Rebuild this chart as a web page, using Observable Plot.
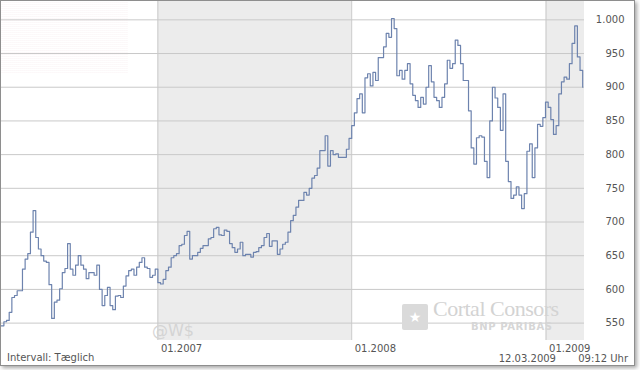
<!DOCTYPE html>
<html>
<head>
<meta charset="utf-8">
<script src="https://cdn.jsdelivr.net/npm/d3@7"></script>
<script src="https://cdn.jsdelivr.net/npm/@observablehq/plot@0.6"></script>
<style>
  html, body { margin: 0; padding: 0; background: #fff; }
  body { font-family: "DejaVu Sans", Verdana, sans-serif; }
  #frame { position: absolute; left: 0; top: 0; width: 633px; height: 364px;
           border: 1px solid #8e8e8e; box-shadow: 2px 2px 4px rgba(0,0,0,0.35);
           background: #fff; overflow: hidden; }
  #chart { position: absolute; left: 0; top: 0; }
  #stripes { position: absolute; left: 0; top: 1px; width: 127px; height: 72px; pointer-events: none;
             background: repeating-linear-gradient(to bottom, rgba(240,215,222,0.16) 0 1px, rgba(255,255,255,0) 1px 2px); }
  .foot { position: absolute; font-size: 10px; line-height: 10px; color: #555; white-space: pre; }
  .wm { position: absolute; white-space: pre; pointer-events: none; }
</style>
</head>
<body>
<div id="frame">
  <div id="chart"></div>
  <div id="stripes"></div>
  <div class="wm" style="left:151px; top:322px; font: 16px/16px 'DejaVu Sans', sans-serif; color:#d4d4d4;">@W$</div>
  <div class="wm" style="left:401px; top:303px; width:26px; height:26px; background:#dadada; border-radius:2px; color:#fff; font: 14px/26px 'DejaVu Sans'; text-align:center;">★</div>
  <div class="wm" style="left:432px; top:297px; font: 22px/22px 'Liberation Serif', serif; color:#d3d3d3; letter-spacing:-0.5px;">Cortal Consors</div>
  <div class="wm" style="left:470px; top:320px; font: bold 10px/12px 'DejaVu Sans', sans-serif; color:#d6d6d6; letter-spacing:0.6px;">BNP PARIBAS</div>
  <div class="foot" style="left:6px; top:352px;">Intervall: Tæglich</div>
  <div class="foot" style="right:6px; top:353px;">12.03.2009       09:12 Uhr</div>
</div>
<script>
const seriesStart = "2006-03-12";
const stepDays = 5;
const prices = [
  546, 552, 554, 566, 588, 591, 598, 598, 630, 645,
  653, 685, 717, 677, 660, 650, 642, 640, 607, 557,
  581, 584, 601, 625, 631, 668, 630, 621, 636, 650,
  636, 630, 616, 625, 625, 621, 636, 600, 576, 591,
  603, 576, 570, 590, 591, 588, 605, 620, 628, 630,
  621, 633, 640, 647, 633, 631, 618, 621, 630, 610,
  608, 615, 628, 633, 647, 650, 653, 665, 667, 680,
  686, 645, 650, 650, 655, 661, 665, 665, 675, 677,
  690, 692, 681, 680, 688, 686, 668, 662, 655, 660,
  670, 650, 652, 652, 648, 655, 656, 662, 665, 677,
  683, 664, 672, 672, 652, 660, 667, 670, 685, 702,
  710, 722, 732, 732, 744, 740, 750, 765, 769, 780,
  806, 806, 828, 783, 806, 800, 801, 796, 796, 796,
  808, 824, 843, 862, 883, 890, 862, 914, 920, 902,
  922, 910, 944, 944, 960, 980, 974, 1002, 987, 917,
  925, 912, 925, 935, 905, 888, 880, 870, 885, 875,
  900, 932, 908, 885, 880, 870, 885, 905, 940, 928,
  935, 970, 962, 935, 910, 910, 865, 810, 786, 825,
  828, 826, 790, 766, 850, 900, 884, 870, 836, 890,
  790, 760, 735, 740, 752, 740, 720, 742, 805, 816,
  766, 810, 845, 842, 855, 878, 870, 852, 830, 843,
  890, 908, 915, 912, 935, 965, 991, 945, 925, 900
];
const xDomain = ["2006-03-12T12:00Z", "2009-03-14T10:00Z"];
const yDomain = [524.2, 1027.2];
const yTicks = [550, 600, 650, 700, 750, 800, 850, 900, 950, 1000];
const yTickLabels = ["550", "600", "650", "700", "750", "800", "850", "900", "950", "1.000"];
const xTicks = ["2007-01-01", "2008-01-01", "2009-01-01"];
const xTickLabels = ["01.2007", "01.2008", "01.2009"];
const shadedStarts = ["2007-01-01", "2009-01-01"];
const shadedEnds = ["2008-01-01", "2009-03-14T10:00Z"];

// ---- build tables ----
const start = new Date(seriesStart);
const series = prices.map((v, i) => ({date: d3.utcDay.offset(start, i * stepDays), price: v}));
const shaded = shadedStarts.map((s, i) => ({x1: new Date(s), x2: new Date(shadedEnds[i])}));
const xTickTable = xTicks.map((d, i) => ({date: new Date(d), label: xTickLabels[i]}));
const yTickTable = yTicks.map((v, i) => ({v, label: yTickLabels[i]}));

const grid = "#c9c9c9";
const chart = Plot.plot({
  width: 633,
  height: 364,
  marginLeft: 0,
  marginRight: 50,
  marginTop: 0,
  marginBottom: 25,
  style: {fontFamily: "'DejaVu Sans', Verdana, sans-serif", fontSize: "10px", background: "transparent", overflow: "visible"},
  x: {type: "utc", domain: xDomain.map(d => new Date(d)), axis: null},
  y: {domain: yDomain, axis: null},
  marks: [
    Plot.rect(shaded, {x1: "x1", x2: "x2", fill: "#ececec"}),
    Plot.ruleY(yTickTable, {y: "v", stroke: grid, strokeWidth: 1}),
    Plot.ruleX(xTickTable, {x: "date", stroke: grid, strokeWidth: 1}),
    Plot.line(series, {x: "date", y: "price", curve: "step-after", stroke: "#6d83ae", strokeWidth: 1.2}),
    Plot.text(yTickTable, {y: "v", text: "label", frameAnchor: "right", dx: 40, textAnchor: "end", fill: "#555"}),
    Plot.text(xTickTable, {x: "date", text: "label", frameAnchor: "bottom", lineAnchor: "top", dy: 4, dx: 3, textAnchor: "start", fill: "#555"})
  ]
});
document.getElementById("chart").appendChild(chart);
</script>
</body>
</html>
